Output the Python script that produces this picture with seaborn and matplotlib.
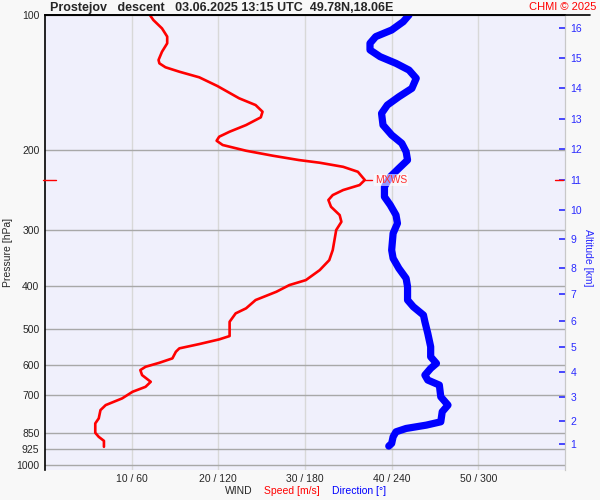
# Prostejov descent sounding: wind speed / direction vs pressure
import matplotlib
matplotlib.use("Agg")
import numpy as np
import matplotlib.pyplot as plt
from matplotlib.ticker import NullLocator
from matplotlib.lines import Line2D
import matplotlib.transforms as mtransforms
import seaborn as sns

# wind speed profile (hPa, m/s)
speed_p = [100, 102.6, 107.1, 111.7, 115.6, 120.7, 125.9, 128.1, 130.7, 133.7,
           137.6, 143.9, 153.2, 158.6, 164.1, 168.9, 175.7, 181.8, 186.5, 190.4,
           194.6, 200.4, 205.6, 210.2, 213.1, 217.6, 223.2, 232.8, 238.9, 245.1,
           251.5, 257.9, 267.0, 278.6, 288.4, 300.8, 316.7, 333.3, 350.9, 369.3,
           388.7, 398.7, 412.6, 430.5, 449.2, 460.9, 481.2, 517.7, 526.6, 539.4,
           551.4, 561.1, 580.4, 593.6, 605.9, 616.3, 632.3, 654.4, 671.4, 688.7,
           712.4, 737.3, 756.5, 789.3, 809.8, 849.7, 867.4, 885.4, 912.9]
speed_ms = [12.1, 12.5, 13.5, 14.1, 14.1, 13.5, 13.1, 13.2, 13.9, 15.5,
            17.8, 19.9, 22.4, 24.3, 25.1, 24.9, 23.2, 21.3, 20.1, 19.8,
            20.5, 23.2, 26.3, 29.3, 31.7, 34.4, 36.1, 36.9, 36.3, 34.4,
            33.2, 32.7, 33.0, 34.0, 34.2, 33.6, 33.4, 33.2, 32.8, 31.7,
            30.1, 28.2, 26.7, 24.3, 23.2, 22.0, 21.3, 21.3, 20.1, 17.8,
            15.5, 15.1, 14.7, 13.2, 11.6, 11.0, 11.2, 12.2, 11.6, 10.1,
            8.9, 7.0, 6.4, 6.2, 5.8, 5.8, 6.2, 6.8, 6.8]

# wind direction profile (hPa, deg)
dir_p = [100, 103.5, 108.0, 111.7, 115.6, 119.6, 123.8, 128.1, 132.6, 138.3,
         145.6, 152.0, 158.6, 165.5, 175.7, 184.9, 192.9, 201.4, 210.2, 219.3,
         229.0, 241.0, 253.7, 264.6, 278.6, 290.7, 306.0, 333.3, 347.7, 366.1,
         385.3, 402.1, 430.5, 445.6, 465.0, 481.2, 510.7, 546.9, 575.7, 595.6,
         610.9, 632.3, 648.6, 665.4, 706.6, 737.3, 763.0, 803.1, 816.9, 831.0,
         845.4, 867.4, 897.1, 909.5]
dir_deg = [252, 248, 240, 229, 225, 225, 232, 243, 252, 257,
           254, 245, 237, 233, 234, 240, 247, 250, 251, 245,
           239, 235, 235, 239, 243, 244, 241, 240, 241, 245,
           250, 251, 251, 255, 262, 263, 265, 267, 267, 271,
           267, 263, 265, 273, 274, 279, 275, 274, 264, 250,
           243, 241, 240, 238]

pressure_ticks = [100, 200, 300, 400, 500, 600, 700, 850, 925, 1000]
speed_ticks = [10, 20, 30, 40, 50]
dir_ticks = [60, 120, 180, 240, 300]
alt_km = list(range(1, 17))
alt_p = [898.9, 801.3, 707.5, 623.6, 548.6, 478.7, 418.2, 366.1, 315.5, 271.6,
         232.9, 198.7, 170.4, 145.6, 124.9, 107.1]

title = "Prostejov   descent   03.06.2025 13:15 UTC  49.78N,18.06E"

sns.set_style("white")
plt.rcParams['font.family'] = ['Liberation Sans', 'DejaVu Sans']

RED = '#ff0000'
BLUE = '#0000ff'
ALT_BLUE = '#2a2aff'

fig = plt.figure(figsize=(6, 5), dpi=100, facecolor='#f8f8f8')
ax = fig.add_axes([45 / 600, 30 / 500, 520 / 600, 455 / 500])
ax.set_facecolor('#f0f0fc')
ax.set_yscale('log')
ax.set_ylim(1028, 100)
ax.set_xlim(0, 60)

ax.set_yticks(pressure_ticks, [str(p) for p in pressure_ticks])
ax.yaxis.set_minor_locator(NullLocator())
ax.set_xticks(speed_ticks, [f"{s} / {d}" for s, d in zip(speed_ticks, dir_ticks)])
ax.tick_params(axis='y', length=0, pad=4, labelsize=7.5)
ax.tick_params(axis='x', length=0, pad=3, labelsize=7.5)
ax.grid(axis='y', color='#a8a8a8', lw=1)
ax.grid(axis='x', color='#d8d8d8', lw=1)
ax.set_axisbelow(True)
for s in ['bottom']:
    ax.spines[s].set_visible(False)
ax.spines['left'].set_color('black')
ax.spines['left'].set_linewidth(1.2)
ax.spines['top'].set_color('black')
ax.spines['top'].set_linewidth(1.2)
ax.spines['right'].set_color('#c8c8c8')

sns.lineplot(x=speed_ms, y=speed_p, ax=ax, sort=False, estimator=None,
             color=RED, lw=1.9)
ax.set_xlabel('')
ax.set_ylabel('')

# direction on its own x scale (0-360)
ax_dir = ax.twiny()
ax_dir.set_xlim(0, 360)
sns.lineplot(x=dir_deg, y=dir_p, ax=ax_dir, sort=False, estimator=None,
             color=BLUE, lw=5.2, solid_capstyle='round')
ax_dir.set_xticks([])
ax_dir.set_xlabel('')
ax_dir.set_ylabel('')
for s in ax_dir.spines.values():
    s.set_visible(False)

# altitude axis on the right
ax_alt = ax.twinx()
ax_alt.set_yscale('log')
ax_alt.set_ylim(1028, 100)
ax_alt.set_yticks(alt_p, [str(k) for k in alt_km])
ax_alt.yaxis.set_minor_locator(NullLocator())
ax_alt.tick_params(axis='y', direction='in', length=4, width=1.2, pad=4,
                   colors=ALT_BLUE, labelsize=7.5)
for s in ['left', 'top', 'bottom']:
    ax_alt.spines[s].set_visible(False)
ax_alt.spines['right'].set_color('#c8c8c8')

# max wind marker
i_max = int(np.argmax(speed_ms))
mx_p = speed_p[i_max]
mx_s = speed_ms[i_max]
trans = mtransforms.blended_transform_factory(ax_alt.transAxes, ax_alt.transData)
ax_alt.plot([-0.004, 0.021], [mx_p, mx_p], color=RED, lw=1, transform=trans, clip_on=False)
ax_alt.plot([0.981, 0.996], [mx_p, mx_p], color=RED, lw=1, transform=trans, clip_on=False)
ax_alt.plot([mx_s, mx_s + 0.8], [mx_p, mx_p], color=RED, lw=1)
ax_alt.text(mx_s + 1.15, mx_p, "MXWS", color='#ff3030', fontsize=7.5, va='center', ha='left',
            bbox=dict(boxstyle='square,pad=0.1', fc='white', ec='none', alpha=0.6))

# titles and labels
fig.add_artist(Line2D([45 / 600, 590 / 600], [1 - 15 / 500] * 2, color='black', lw=1.2))
fig.text(50 / 600, 1 - 8 / 500, title, fontsize=9, weight='bold', va='center', ha='left')
fig.text(596 / 600, 1 - 7 / 500, "CHMI © 2025", fontsize=8, color=RED, va='center', ha='right')
fig.text(8 / 600, 1 - 252 / 500, "Pressure [hPa]", fontsize=7.5, rotation=90,
         va='center', ha='center')
fig.text(588 / 600, 1 - 258 / 500, "Altitude [km]", fontsize=7.5, rotation=270,
         color=ALT_BLUE, va='center', ha='center')
fig.text(225 / 600, 1 - 491 / 500, "WIND", fontsize=7.5, va='center', ha='left')
fig.text(264 / 600, 1 - 491 / 500, "Speed [m/s]", fontsize=7.5, color=RED, va='center', ha='left')
fig.text(332 / 600, 1 - 491 / 500, "Direction [°]", fontsize=7.5, color=BLUE, va='center', ha='left')

fig.savefig("out.png", dpi=100, facecolor=fig.get_facecolor())
